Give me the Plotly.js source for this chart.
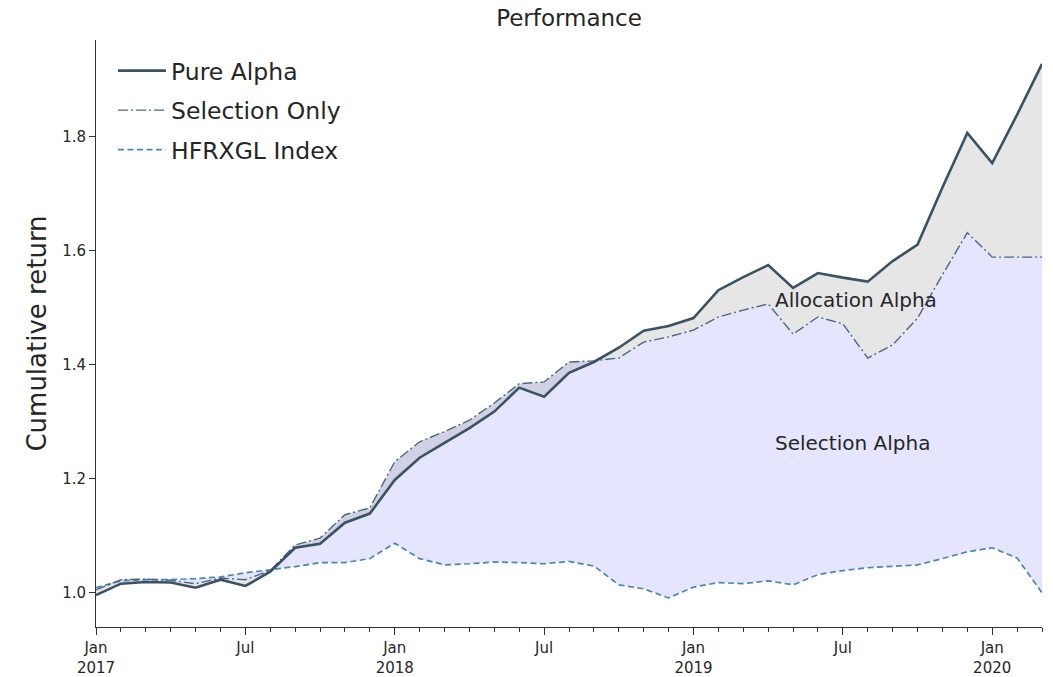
<!DOCTYPE html>
<html>
<head>
<meta charset="utf-8">
<script src="https://cdn.plot.ly/plotly-3.0.1.min.js"></script>
<style>html,body{margin:0;padding:0;background:#fff;}#chart{width:1053px;height:677px;}</style>
</head>
<body>
<div id="chart"></div>
<script>
// Monthly periods, Jan 2017 .. Mar 2020
const months = ["2017-01","2017-02","2017-03","2017-04","2017-05","2017-06","2017-07","2017-08","2017-09","2017-10","2017-11","2017-12",
  "2018-01","2018-02","2018-03","2018-04","2018-05","2018-06","2018-07","2018-08","2018-09","2018-10","2018-11","2018-12",
  "2019-01","2019-02","2019-03","2019-04","2019-05","2019-06","2019-07","2019-08","2019-09","2019-10","2019-11","2019-12",
  "2020-01","2020-02","2020-03"];
const pureAlpha = [0.996,1.016,1.019,1.018,1.009,1.023,1.012,1.037,1.079,1.086,1.123,1.139,
  1.198,1.237,1.263,1.289,1.318,1.360,1.344,1.386,1.405,1.430,1.460,1.468,
  1.482,1.531,1.554,1.575,1.535,1.561,1.553,1.546,1.582,1.611,1.711,1.807,
  1.754,1.839,1.928];
const selectionOnly = [1.005,1.023,1.024,1.022,1.016,1.026,1.023,1.039,1.084,1.096,1.137,1.149,
  1.230,1.265,1.283,1.303,1.333,1.367,1.370,1.405,1.407,1.412,1.440,1.449,
  1.461,1.484,1.496,1.507,1.454,1.484,1.472,1.412,1.435,1.482,1.558,1.632,
  1.589,1.589,1.589];
const hfrxgl = [1.009,1.021,1.023,1.023,1.025,1.028,1.035,1.040,1.046,1.053,1.053,1.060,
  1.087,1.060,1.049,1.051,1.054,1.053,1.051,1.055,1.047,1.014,1.007,0.991,
  1.010,1.018,1.016,1.021,1.014,1.032,1.039,1.044,1.046,1.049,1.060,1.072,
  1.079,1.061,1.000];
const tickMonths = ["2017-01","2017-07","2018-01","2018-07","2019-01","2019-07","2020-01"];
const tickLabels = ["Jan<br>2017","Jul","Jan<br>2018","Jul","Jan<br>2019","Jul","Jan<br>2020"];
const seriesNames = ["Pure Alpha","Selection Only","HFRXGL Index"];
const regionLabels = ["Allocation Alpha","Selection Alpha"];

const x = months.map((m,i)=>i);
const tickvals = tickMonths.map(m=>months.indexOf(m));

const FONT = "DejaVu Sans, sans-serif";
const cPure = "#3b5263", cSel = "#4a6783", cHfrx = "#4a86b8";

const traces = [
  {x, y: hfrxgl, mode:"lines", line:{width:0}, showlegend:false, hoverinfo:"skip"},
  {x, y: selectionOnly, mode:"lines", line:{width:0}, fill:"tonexty", fillcolor:"rgba(0,0,255,0.1)", showlegend:false, hoverinfo:"skip"},
  {x, y: pureAlpha, mode:"lines", line:{width:0}, fill:"tonexty", fillcolor:"rgba(128,128,128,0.2)", showlegend:false, hoverinfo:"skip"},
  {x, y: hfrxgl, mode:"lines", name:seriesNames[2], line:{color:cHfrx, width:1.7, dash:"6px,3.5px"}, legendrank:3, legendgroup:"c"},
  {x, y: selectionOnly, mode:"lines", name:seriesNames[1], line:{color:cSel, width:1.4, dash:"10px,3px,2px,3px"}, legendrank:2, legendgroup:"b"},
  {x, y: pureAlpha, mode:"lines", name:seriesNames[0], line:{color:cPure, width:2.6}, legendrank:1, legendgroup:"a"}
];

const layout = {
  width:1053, height:677,
  margin:{l:96, r:11, t:40, b:50},
  paper_bgcolor:"#fff", plot_bgcolor:"#fff",
  font:{family:FONT, color:"#262626"},
  title:{text:"Performance", font:{size:23, family:FONT, color:"#262626"}, x:0.5, xref:"paper", y:1-18/677, yref:"container", yanchor:"middle"},
  xaxis:{range:[0,38], showgrid:false, zeroline:false, showline:true, linecolor:"#333", linewidth:1,
    tickmode:"array", tickvals:tickvals, ticktext:tickLabels, ticks:"outside", ticklen:7, tickcolor:"#333",
    tickfont:{size:15, family:FONT, color:"#262626"},
    minor:{dtick:1, ticks:"outside", ticklen:4, tickcolor:"#333", showgrid:false}},
  yaxis:{range:[0.94,1.97], showgrid:false, zeroline:false, showline:true, linecolor:"#333", linewidth:1,
    tick0:1.0, dtick:0.2, tickformat:".1f", ticks:"outside", ticklen:6, tickcolor:"#333",
    tickfont:{size:15, family:FONT, color:"#262626"},
    title:{text:"Cumulative return", font:{size:26, family:FONT, color:"#262626"}, standoff:8}},
  legend:{x:0.018, y:0.985, xanchor:"left", yanchor:"top", bgcolor:"rgba(0,0,0,0)", font:{size:23.5, family:FONT, color:"#262626"},
    itemwidth:48, tracegroupgap:6, traceorder:"grouped"},
  annotations:[
    {x:27.2, y:1.514, xref:"x", yref:"y", text:regionLabels[0], showarrow:false, xanchor:"left", yanchor:"middle", font:{size:20, family:FONT, color:"#262626"}},
    {x:27.2, y:1.263, xref:"x", yref:"y", text:regionLabels[1], showarrow:false, xanchor:"left", yanchor:"middle", font:{size:20, family:FONT, color:"#262626"}}
  ],
  showlegend:true
};

Plotly.newPlot("chart", traces, layout, {staticPlot:true, displayModeBar:false});
</script>
</body>
</html>
